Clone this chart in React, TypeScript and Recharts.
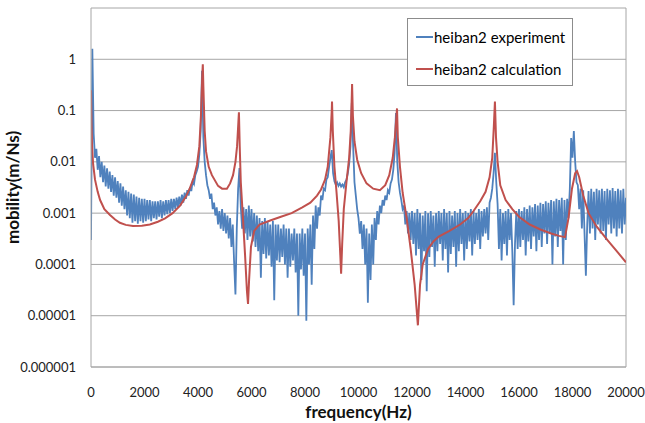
import { CartesianGrid, Label, Line, LineChart, ReferenceLine, XAxis, YAxis } from "recharts";

// measured spectrum, sampled every 50 Hz from 0 to 20000 Hz
const expStep = 50;
const expMobility = [
  // 0 - 950
  0.0003, 1.6, 0.035, 0.012, 0.018, 0.007, 0.013, 0.005, 0.01, 0.004, 0.0085, 0.0033, 0.0075, 0.003, 0.0065, 0.0026, 0.0055, 0.0022, 0.005, 0.002,
  // 1000 - 1950
  0.0042, 0.0016, 0.0038, 0.0014, 0.0033, 0.0012, 0.0028, 0.0009, 0.0026, 0.0008, 0.0024, 0.00065, 0.0023, 0.0007, 0.0021, 0.00062, 0.002, 0.0007, 0.0019, 0.00065,
  // 2000 - 2950
  0.0019, 0.0007, 0.0018, 0.00075, 0.0018, 0.0007, 0.0017, 0.0008, 0.0017, 0.00075, 0.0017, 0.00085, 0.0018, 0.0008, 0.0017, 0.0009, 0.0018, 0.00095, 0.0018, 0.001,
  // 3000 - 3950
  0.0019, 0.0011, 0.0019, 0.0012, 0.002, 0.0013, 0.0021, 0.0014, 0.0023, 0.0016, 0.0025, 0.0019, 0.0028, 0.0022, 0.0032, 0.0027, 0.0042, 0.0037, 0.0055, 0.0065,
  // 4000 - 4950
  0.008, 0.014, 0.04, 0.6, 0.03, 0.01, 0.0055, 0.0035, 0.0028, 0.0019, 0.0024, 0.0012, 0.0016, 0.0009, 0.0013, 0.0006, 0.0011, 0.0005, 0.0012, 0.00045,
  // 5000 - 5950
  0.001, 0.0004, 0.0009, 0.00032, 0.0008, 0.00022, 0.0006, 0.00011, 0.000026, 0.0005, 0.003, 0.0076, 0.0013, 0.0005, 0.0013, 0.0004, 0.0012, 0.0003, 0.0014, 0.00035,
  // 6000 - 6950
  0.0012, 0.00028, 0.001, 0.00022, 0.0009, 0.00018, 0.0008, 0.000055, 0.0007, 0.00016, 0.0008, 0.00013, 0.0007, 0.00015, 0.0006, 0.00009, 0.0007, 0.00002, 0.0006, 0.00012,
  // 7000 - 7950
  0.0006, 0.00011, 0.0005, 0.00014, 0.0006, 0.0001, 0.0005, 0.000055, 0.0005, 0.00009, 0.0004, 0.00012, 0.0005, 0.00007, 0.0004, 0.00001, 0.0004, 0.00008, 0.0005, 0.00006,
  // 8000 - 8950
  0.0004, 0.000008, 0.0005, 0.0001, 0.0006, 0.00004, 0.0009, 0.0002, 0.0014, 0.0005, 0.0013, 0.0009, 0.0022, 0.0018, 0.003, 0.0028, 0.0045, 0.005, 0.008, 0.012,
  // 9000 - 9950
  0.017, 0.006, 0.0042, 0.0036, 0.004, 0.0034, 0.0038, 0.0033, 0.0036, 0.0032, 0.004, 0.0045, 0.006, 0.009, 0.02, 0.14, 0.02, 0.004, 0.0022, 0.0012,
  // 10000 - 10950
  0.0008, 0.0004, 0.0007, 0.0002, 0.0006, 0.0001, 0.0005, 0.000018, 0.0004, 0.00005, 0.0006, 0.0001, 0.0008, 0.0003, 0.0011, 0.0006, 0.0014, 0.001, 0.0018, 0.0014,
  // 11000 - 11950
  0.0022, 0.0018, 0.0028, 0.0025, 0.0038, 0.0045, 0.007, 0.015, 0.09, 0.01, 0.004, 0.0025, 0.0018, 0.0012, 0.0014, 0.0006, 0.0011, 0.0004, 0.001, 0.0003,
  // 12000 - 12950
  0.0011, 0.00025, 0.001, 0.00015, 0.0012, 0.0002, 0.001, 0.00005, 0.0009, 0.00018, 0.0011, 0.00003, 0.001, 0.00014, 0.0011, 0.00022, 0.0009, 0.00009, 0.001, 0.00018,
  // 13000 - 13950
  0.0011, 0.00025, 0.001, 0.00012, 0.0012, 0.0002, 0.001, 0.00007, 0.0011, 0.00016, 0.0009, 0.00022, 0.0011, 0.00009, 0.001, 0.00018, 0.0012, 0.00025, 0.001, 0.00012,
  // 14000 - 14950
  0.0011, 0.0002, 0.001, 0.00028, 0.0012, 0.00015, 0.0011, 0.00025, 0.001, 0.0003, 0.0012, 0.0002, 0.0011, 0.00035, 0.0012, 0.0004, 0.0013, 0.0003, 0.0016, 0.002,
  // 15000 - 15950
  0.003, 0.006, 0.015, 0.004, 0.0015, 0.0002, 0.0012, 0.00012, 0.001, 0.00025, 0.0011, 0.00015, 0.0012, 0.0003, 0.001, 0.00018, 0.000016, 0.00025, 0.0011, 0.0002,
  // 16000 - 16950
  0.0012, 0.00022, 0.0011, 0.0003, 0.0013, 0.00015, 0.0012, 0.00028, 0.0014, 0.0002, 0.0013, 0.00035, 0.0015, 0.00018, 0.0014, 0.0003, 0.0016, 0.00022, 0.0015, 0.0004,
  // 17000 - 17950
  0.0017, 0.00025, 0.0016, 0.0004, 0.0018, 0.0001, 0.0017, 0.00035, 0.0019, 0.00022, 0.0018, 0.00045, 0.002, 0.0001, 0.0018, 0.0003, 0.0019, 0.0008, 0.003, 0.029,
  // 18000 - 18950
  0.012, 0.04, 0.01, 0.004, 0.0035, 0.0012, 0.003, 0.0005, 0.0028, 0.0004, 0.00006, 0.0006, 0.0027, 0.0004, 0.003, 0.0005, 0.0026, 0.0003, 0.003, 0.0006,
  // 19000 - 20000
  0.0028, 0.0004, 0.003, 0.00045, 0.0027, 0.0003, 0.003, 0.0006, 0.0028, 0.0004, 0.0031, 0.0005, 0.0027, 0.00035, 0.003, 0.0005, 0.0028, 0.0004, 0.003, 0.0006, 0.002,
];

// calculated response
const calcFreq = [
  0, 20, 40, 80, 150, 250, 340, 500, 710, 900, 1080, 1300, 1570, 1900, 2200, 2500, 2770, 3050, 3330, 3550,
  3700, 3850, 3960, 4050, 4110, 4160, 4180, 4200, 4250, 4300, 4400, 4520, 4750, 4900, 5080, 5200, 5310, 5400, 5460, 5510,
  5530, 5560, 5600, 5680, 5760, 5830, 5870, 5910, 5980, 6100, 6300, 6700, 7100, 7500, 7900, 8200, 8450, 8600, 8750, 8850,
  8950, 9000, 9010, 9040, 9100, 9180, 9260, 9320, 9350, 9390, 9450, 9550, 9650, 9710, 9750, 9760, 9790, 9850, 9950, 10100,
  10300, 10550, 10800, 11000, 11150, 11280, 11360, 11420, 11440, 11470, 11550, 11650, 11800, 11950, 12100, 12220, 12300, 12400, 12600, 12800,
  13000, 13400, 13800, 14100, 14300, 14550, 14750, 14900, 15000, 15060, 15100, 15140, 15200, 15300, 15500, 15750, 16000, 16400, 16800, 17200,
  17500, 17720, 17850, 17980, 18100, 18170, 18250, 18400, 18600, 18900, 19300, 19700, 20000,
];
const calcMobility = [
  0.25, 0.05, 0.02, 0.009, 0.0045, 0.0026, 0.0018, 0.0012, 0.00092, 0.00075, 0.00065, 0.00059, 0.00056, 0.00057, 0.0006, 0.00068, 0.00079, 0.001, 0.0014, 0.0021,
  0.0031, 0.005, 0.0087, 0.02, 0.08, 0.5, 0.8, 0.3, 0.04, 0.016, 0.008, 0.0055, 0.0034, 0.003, 0.003, 0.0038, 0.0055, 0.01, 0.02, 0.06,
  0.093, 0.02, 0.004, 0.0008, 0.00015, 0.00003, 0.000017, 0.00005, 0.00022, 0.00045, 0.0006, 0.00072, 0.00085, 0.001, 0.0013, 0.0016, 0.0022, 0.0029, 0.0045, 0.008,
  0.03, 0.1, 0.15, 0.04, 0.008, 0.0025, 0.0007, 0.00015, 0.000066, 0.00025, 0.0012, 0.004, 0.012, 0.04, 0.2, 0.33, 0.08, 0.025, 0.011, 0.006,
  0.0038, 0.003, 0.0028, 0.0035, 0.0055, 0.012, 0.03, 0.08, 0.11, 0.03, 0.008, 0.0025, 0.0008, 0.0002, 0.00004, 0.0000065, 0.00004, 0.0001, 0.0002, 0.00028,
  0.00035, 0.00045, 0.0006, 0.0008, 0.0011, 0.0017, 0.0026, 0.005, 0.012, 0.05, 0.15, 0.03, 0.01, 0.0035, 0.0018, 0.0012, 0.00085, 0.0006, 0.00048, 0.0004,
  0.00036, 0.00034, 0.0008, 0.003, 0.006, 0.0066, 0.005, 0.0022, 0.001, 0.00055, 0.0003, 0.00017, 0.00011,
];

const freqTicks = [0, 2000, 4000, 6000, 8000, 10000, 12000, 14000, 16000, 18000, 20000];
const mobilityTicks = [0.000001, 0.00001, 0.0001, 0.001, 0.01, 0.1, 1, 10];
const mobilityLabels = ["0.000001", "0.00001", "0.0001", "0.001", "0.01", "0.1", "1", ""];

const seriesNames = ["heiban2 experiment", "heiban2 calculation"];
const seriesColors = ["#4f81bd", "#c0504d"];

const expData = expMobility.map((v, i) => ({ f: i * expStep, v }));
const calcData = calcFreq.map((f, i) => ({ f, v: calcMobility[i] }));

const font = "Lato, 'Open Sans', sans-serif";
const gridColor = "#a6a6a6";
const titleStyle = { fontWeight: 700, fontSize: 17, fill: "#111", fontFamily: font };

export default function App() {
  return (
    <div style={{ position: "absolute", left: 0, top: 0, width: 645, height: 423, background: "#fff", fontFamily: font }}>
      <LineChart width={645} height={423} margin={{ top: 8, right: 19, bottom: 0, left: 0 }}>
        <CartesianGrid vertical={false} stroke={gridColor} />
        <XAxis
          dataKey="f"
          type="number"
          domain={[0, 20000]}
          ticks={freqTicks}
          allowDataOverflow
          height={56}
          tickLine={false}
          tickSize={0}
          tickMargin={21}
          axisLine={{ stroke: gridColor }}
          tick={{ fill: "#222", fontSize: 13, fontFamily: font }}
        >
          <Label value="frequency(Hz)" position="insideBottom" offset={5} style={titleStyle} />
        </XAxis>
        <YAxis
          dataKey="v"
          scale="log"
          domain={[0.000001, 10]}
          ticks={mobilityTicks}
          allowDataOverflow
          width={91}
          tickLine={false}
          tickSize={0}
          tickMargin={15}
          axisLine={{ stroke: gridColor }}
          tickFormatter={(v: number) => mobilityLabels[mobilityTicks.indexOf(v)] ?? String(v)}
          tick={{ fill: "#222", fontSize: 13, fontFamily: font }}
        >
          <Label
            value="mobility(m/Ns)"
            position="insideLeft"
            angle={-90}
            offset={13}
            style={{ ...titleStyle, textAnchor: "middle" }}
          />
        </YAxis>
        <ReferenceLine x={20000} stroke={gridColor} />
        <Line
          data={expData}
          dataKey="v"
          name={seriesNames[0]}
          stroke={seriesColors[0]}
          strokeWidth={1.8}
          dot={false}
          isAnimationActive={false}
        />
        <Line
          data={calcData}
          dataKey="v"
          name={seriesNames[1]}
          stroke={seriesColors[1]}
          strokeWidth={2}
          dot={false}
          isAnimationActive={false}
        />
      </LineChart>
      <div
        style={{
          position: "absolute",
          left: 407,
          top: 18,
          width: 164,
          height: 66,
          border: "1px solid #8c8c8c",
          background: "#fff",
          fontSize: 15,
          color: "#000",
        }}
      >
        {seriesNames.map((name, i) => (
          <div
            key={name}
            style={{ position: "absolute", left: 8, top: i === 0 ? 8 : 40, height: 20, display: "flex", alignItems: "center" }}
          >
            <span style={{ display: "inline-block", width: 17, height: 2, background: seriesColors[i], marginRight: 1 }} />
            <span style={{ whiteSpace: "nowrap" }}>{name}</span>
          </div>
        ))}
      </div>
    </div>
  );
}
